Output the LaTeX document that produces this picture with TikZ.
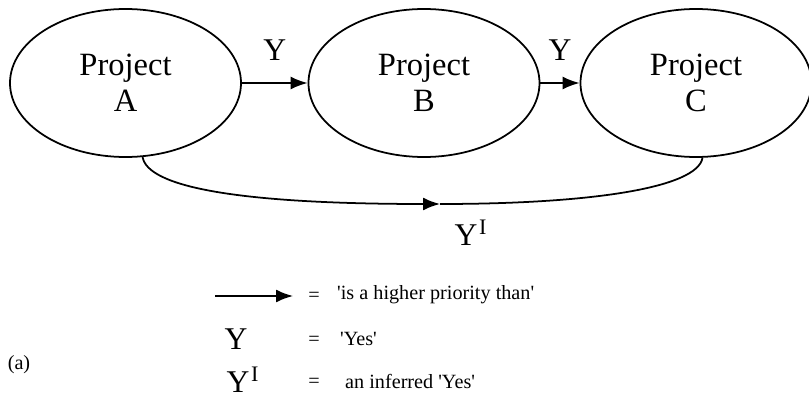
\documentclass[tikz,border=0pt]{standalone}
\usepackage{fontspec}
\setmainfont{Liberation Serif}
\usetikzlibrary{positioning, arrows.meta, shapes.geometric}

\begin{document}
\begin{tikzpicture}[
project/.style={ellipse, draw, line width=1pt, minimum width=4.62cm, minimum height=2.96cm, align=center, font=\fontsize{18.5}{20.5}\selectfont},
sel/.style={-{Latex[length=3.4mm, width=2.6mm]}, line width=1pt},
lbl/.style={font=\fontsize{18}{19}\selectfont},
key/.style={font=\fontsize{11.5}{13}\selectfont}
]

\useasboundingbox (0,0) rectangle (16.18,7.96);

\node[project] (A) at (2.51,6.30) {Project\\A};
\node[project] (B) at (8.48,6.30) {Project\\B};
\node[project] (C) at (13.92,6.30) {Project\\C};

\draw[sel] (A.east) -- node[lbl, above=9pt] (yab) {Y} (B.west);
\draw[sel] (B.east) -- node[lbl, above=9pt] (ybc) {Y} (C.west);

% inferred link, arrow in the middle
\coordinate (low) at (8.8,3.88);
\draw[sel] (A.-77) .. controls (2.95,4.25) and (4.6,3.88) .. (low);
\draw[line width=1pt] (low) .. controls (11.8,3.88) and (13.95,4.2) .. (C.-85);
\node[lbl] (yinf) at (9.42,3.30) {Y\kern1pt\textsuperscript{I}};

% key
\coordinate (ks) at (4.30,2.04);
\coordinate (ke) at (5.86,2.04);
\draw[sel] (ks) -- (ke);
\node[lbl] (k2) at (4.72,1.18) {Y};
\node[lbl] (k3) at (4.86,0.36) {Y\kern1pt\textsuperscript{I}};

\node[key] (e1) at (6.28,2.02) {=};
\node[key] (e2) at (6.28,1.14) {=};
\node[key] (e3) at (6.28,0.30) {=};

\node[key, anchor=west] (t1) at (6.62,2.06) {\textquotesingle is a higher priority than\textquotesingle};
\node[key, anchor=west] (t2) at (6.68,1.18) {\textquotesingle Yes\textquotesingle};
\node[key, anchor=west] (t3) at (6.78,0.34) {an inferred \textquotesingle Yes\textquotesingle};

\node[key] (fig) at (0.38,0.66) {(a)};

\end{tikzpicture}
\end{document}
